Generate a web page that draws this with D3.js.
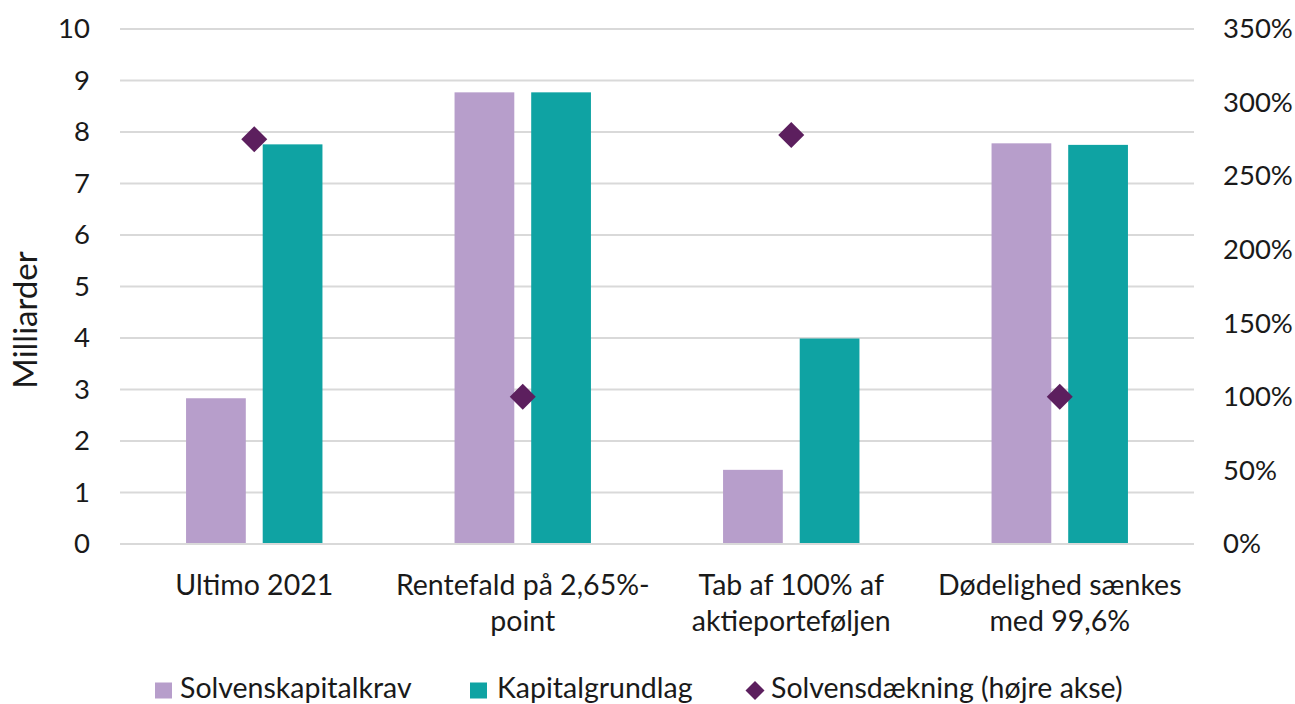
<!DOCTYPE html>
<html><head><meta charset="utf-8">
<script src="https://cdn.jsdelivr.net/npm/d3@7"></script>
<style>
html,body{margin:0;padding:0;background:#fff;}
svg{display:block;font-family:Lato,"Open Sans",sans-serif;}
</style></head>
<body>
<svg id="chart" width="1295" height="704"></svg>
<script>
const categories = [["Ultimo 2021"], ["Rentefald på 2,65%-", "point"], ["Tab af 100% af", "aktieporteføljen"], ["Dødelighed sænkes", "med 99,6%"]];
const solvenskapitalkrav = [2.83, 8.77, 1.44, 7.78];
const kapitalgrundlag = [7.76, 8.77, 3.99, 7.75];
const solvensdaekning = [2.75, 1.00, 2.78, 1.00];
const leftTicks = [0,1,2,3,4,5,6,7,8,9,10];
const rightTicks = [0,0.5,1,1.5,2,2.5,3,3.5];
const seriesNames = ["Solvenskapitalkrav", "Kapitalgrundlag", "Solvensdækning (højre akse)"];
const colors = {purple:"#B79ECB", teal:"#0FA3A3", diamond:"#5C1F5E", grid:"#D9D9D9", text:"#1a1a1a"};

const svg = d3.select("#chart");
const m = {left:120, right:1194, top:29, bottom:544};
const idx = categories.map((d,i)=>i);
const x = d3.scaleBand().domain(idx).range([m.left, m.right]).padding(0);
const y = d3.scaleLinear().domain([0,10]).range([m.bottom, m.top]);
const y2 = d3.scaleLinear().domain([0,3.5]).range([m.bottom, m.top]);

// gridlines
svg.append("g").selectAll("line").data(leftTicks).join("line")
  .attr("x1", m.left).attr("x2", m.right)
  .attr("y1", d=>y(d)).attr("y2", d=>y(d))
  .attr("stroke", colors.grid).attr("stroke-width", 2);

const fsTick = 27.5, fsLab = 28.5, fsTitle = 33;
// left axis
const leftAxis = svg.append("g").attr("transform", `translate(${m.left-30},0)`)
  .call(d3.axisLeft(y).tickValues(leftTicks).tickSize(0).tickPadding(0).tickFormat(d3.format("d")));
leftAxis.select(".domain").remove();
leftAxis.selectAll("text").attr("font-size", fsTick).attr("fill", colors.text).attr("font-family","Lato");

// right axis
const rightAxis = svg.append("g").attr("transform", `translate(${m.right+29},0)`)
  .call(d3.axisRight(y2).tickValues(rightTicks).tickSize(0).tickPadding(0).tickFormat(d3.format(".0%")));
rightAxis.select(".domain").remove();
rightAxis.selectAll("text").attr("font-size", fsTick).attr("fill", colors.text).attr("font-family","Lato");

// y label
svg.append("text").attr("transform", `translate(37,320) rotate(-90)`)
  .attr("text-anchor","middle").attr("font-size", fsTitle).attr("fill", colors.text).text("Milliarder");

// bars
const bw = x.bandwidth()*0.2225;
const gap = x.bandwidth()*0.063;
const g = svg.append("g");
g.selectAll("rect.p").data(solvenskapitalkrav).join("rect").attr("class","p")
  .attr("x", (d,i)=>x(i)+x.bandwidth()/2 - gap/2 - bw)
  .attr("width", bw).attr("y", d=>y(d)).attr("height", d=>y(0)-y(d))
  .attr("fill", colors.purple);
g.selectAll("rect.t").data(kapitalgrundlag).join("rect").attr("class","t")
  .attr("x", (d,i)=>x(i)+x.bandwidth()/2 + gap/2)
  .attr("width", bw).attr("y", d=>y(d)).attr("height", d=>y(0)-y(d))
  .attr("fill", colors.teal);

// baseline
svg.append("line").attr("x1", m.left).attr("x2", m.right).attr("y1", y(0)).attr("y2", y(0))
  .attr("stroke", colors.grid).attr("stroke-width", 2);

// diamonds
const dsym = d3.symbol().type(d3.symbolSquare).size(13*13*2);
svg.append("g").selectAll("path").data(solvensdaekning).join("path")
  .attr("d", dsym)
  .attr("transform", (d,i)=>`translate(${x(i)+x.bandwidth()/2},${y2(d)}) rotate(45)`)
  .attr("fill", colors.diamond);

// category labels
const cl = svg.append("g");
categories.forEach((lines,i)=>{
  const t = cl.append("text").attr("text-anchor","middle").attr("font-size", fsLab).attr("fill", colors.text);
  lines.forEach((ln,j)=>{
    t.append("tspan").attr("x", x(i)+x.bandwidth()/2).attr("y", 595 + j*36).text(ln);
  });
});

// legend
const ly = 690.5;
const lg = svg.append("g").attr("font-size", fsLab).attr("fill", colors.text);
lg.append("rect").attr("x",155).attr("y",ly-8).attr("width",17).attr("height",16).attr("fill",colors.purple);
lg.append("text").attr("x",180).attr("y",698).text(seriesNames[0]);
lg.append("rect").attr("x",470).attr("y",ly-8).attr("width",17).attr("height",16).attr("fill",colors.teal);
lg.append("text").attr("x",497).attr("y",698).text(seriesNames[1]);
lg.append("path").attr("d", d3.symbol().type(d3.symbolSquare).size(9.5*9.5*2)).attr("transform",`translate(755,${ly}) rotate(45)`).attr("fill",colors.diamond);
lg.append("text").attr("x",771).attr("y",698).text(seriesNames[2]);
</script>
</body></html>
